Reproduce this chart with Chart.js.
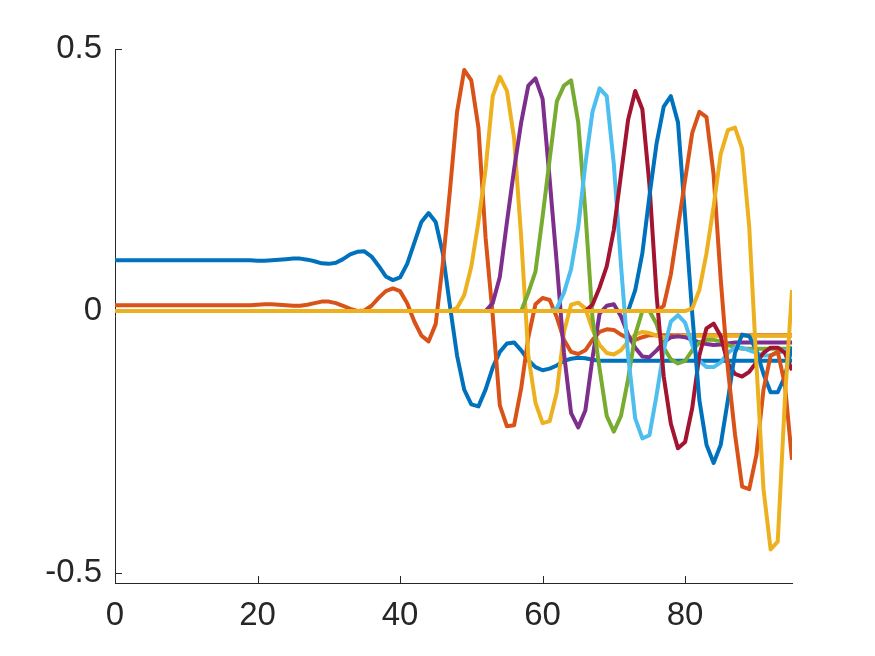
<!DOCTYPE html>
<html>
<head>
<meta charset="utf-8">
<script src="https://cdn.jsdelivr.net/npm/chart.js@4.4.1/dist/chart.umd.min.js"></script>
<style>
  html, body { margin: 0; padding: 0; background: #fff; }
</style>
</head>
<body>
<canvas id="chart" width="875" height="656"></canvas>
<script>
/* ── Data ── */
const xValues = [
  0, 1, 2, 3, 4, 5, 6, 7, 8, 9,
  10, 11, 12, 13, 14, 15, 16, 17, 18, 19,
  20, 21, 22, 23, 24, 25, 26, 27, 28, 29,
  30, 31, 32, 33, 34, 35, 36, 37, 38, 39,
  40, 41, 42, 43, 44, 45, 46, 47, 48, 49,
  50, 51, 52, 53, 54, 55, 56, 57, 58, 59,
  60, 61, 62, 63, 64, 65, 66, 67, 68, 69,
  70, 71, 72, 73, 74, 75, 76, 77, 78, 79,
  80, 81, 82, 83, 84, 85, 86, 87, 88, 89,
  90, 91, 92, 93, 94, 95
];
const xTicks = [0, 20, 40, 60, 80];
const yTicks = [-0.5, 0, 0.5];

const series1 = [
  0.097, 0.097, 0.097, 0.097, 0.097, 0.097, 0.097, 0.097, 0.097, 0.097,
  0.097, 0.097, 0.097, 0.097, 0.097, 0.097, 0.097, 0.097, 0.097, 0.097,
  0.096, 0.096, 0.097, 0.098, 0.099, 0.100, 0.100, 0.098, 0.095, 0.091,
  0.090, 0.092, 0.099, 0.108, 0.113, 0.114, 0.104, 0.086, 0.066, 0.059,
  0.064, 0.090, 0.130, 0.170, 0.187, 0.170, 0.110, 0.010, -0.085, -0.150,
  -0.178, -0.182, -0.150, -0.108, -0.078, -0.062, -0.060, -0.075, -0.094, -0.107,
  -0.113, -0.110, -0.104, -0.095, -0.091, -0.089, -0.090, -0.093, -0.095, -0.095,
  -0.095, -0.095, -0.095, -0.095, -0.095, -0.095, -0.095, -0.095, -0.095, -0.095,
  -0.095, -0.095, -0.095, -0.095, -0.095, -0.095, -0.095, -0.095, -0.095, -0.095,
  -0.095, -0.095, -0.095, -0.095, -0.095, -0.095
];
const series2 = [
  0.011, 0.011, 0.011, 0.011, 0.011, 0.011, 0.011, 0.011, 0.011, 0.011,
  0.011, 0.011, 0.011, 0.011, 0.011, 0.011, 0.011, 0.011, 0.011, 0.011,
  0.012, 0.013, 0.013, 0.012, 0.011, 0.010, 0.010, 0.012, 0.015, 0.018,
  0.018, 0.015, 0.010, 0.004, 0.000, 0.001, 0.010, 0.025, 0.038, 0.043,
  0.038, 0.015, -0.020, -0.047, -0.058, -0.025, 0.090, 0.230, 0.380, 0.460,
  0.440, 0.350, 0.140, -0.008, -0.180, -0.220, -0.218, -0.147, -0.050, 0.013,
  0.025, 0.021, -0.012, -0.055, -0.078, -0.082, -0.075, -0.055, -0.040, -0.035,
  -0.036, -0.045, -0.052, -0.055, -0.050, -0.046, -0.046, -0.046, -0.046, -0.046,
  -0.046, -0.046, -0.046, -0.046, -0.046, -0.046, -0.046, -0.046, -0.046, -0.046,
  -0.046, -0.046, -0.046, -0.046, -0.046, -0.046
];
const series3 = [
  0, 0, 0, 0, 0, 0, 0, 0, 0, 0,
  0, 0, 0, 0, 0, 0, 0, 0, 0, 0,
  0, 0, 0, 0, 0, 0, 0, 0, 0, 0,
  0, 0, 0, 0, 0, 0, 0, 0, 0, 0,
  0, 0, 0, 0, 0, 0, 0, 0, 0.006, 0.030,
  0.085, 0.170, 0.270, 0.410, 0.447, 0.420, 0.330, 0.140, -0.085, -0.175,
  -0.214, -0.210, -0.155, -0.040, 0.012, 0.016, 0.005, -0.035, -0.065, -0.080,
  -0.083, -0.075, -0.058, -0.045, -0.040, -0.042, -0.047, -0.050, -0.050, -0.047,
  -0.047, -0.047, -0.047, -0.047, -0.047, -0.047, -0.047, -0.047, -0.047, -0.047,
  -0.047, -0.047, -0.047, -0.047, -0.047, -0.047
];
const series4 = [
  0, 0, 0, 0, 0, 0, 0, 0, 0, 0,
  0, 0, 0, 0, 0, 0, 0, 0, 0, 0,
  0, 0, 0, 0, 0, 0, 0, 0, 0, 0,
  0, 0, 0, 0, 0, 0, 0, 0, 0, 0,
  0, 0, 0, 0, 0, 0, 0, 0, 0, 0,
  0, 0, 0, 0.015, 0.065, 0.170, 0.270, 0.360, 0.430, 0.444,
  0.405, 0.250, 0.090, -0.080, -0.195, -0.222, -0.190, -0.090, -0.005, 0.010,
  0.013, -0.010, -0.045, -0.070, -0.087, -0.088, -0.075, -0.060, -0.050, -0.048,
  -0.050, -0.055, -0.060, -0.063, -0.065, -0.064, -0.062, -0.060, -0.060, -0.060,
  -0.060, -0.060, -0.060, -0.060, -0.060, -0.060
];
const series5 = [
  0, 0, 0, 0, 0, 0, 0, 0, 0, 0,
  0, 0, 0, 0, 0, 0, 0, 0, 0, 0,
  0, 0, 0, 0, 0, 0, 0, 0, 0, 0,
  0, 0, 0, 0, 0, 0, 0, 0, 0, 0,
  0, 0, 0, 0, 0, 0, 0, 0, 0, 0,
  0, 0, 0, 0, 0, 0, 0, 0, 0.035, 0.075,
  0.180, 0.290, 0.400, 0.430, 0.440, 0.360, 0.190, -0.013, -0.110, -0.200,
  -0.230, -0.200, -0.130, -0.045, 0.000, 0.000, -0.025, -0.070, -0.092, -0.100,
  -0.095, -0.075, -0.060, -0.055, -0.055, -0.058, -0.065, -0.069, -0.072, -0.072,
  -0.072, -0.072, -0.072, -0.072, -0.072, -0.072
];
const series6 = [
  0, 0, 0, 0, 0, 0, 0, 0, 0, 0,
  0, 0, 0, 0, 0, 0, 0, 0, 0, 0,
  0, 0, 0, 0, 0, 0, 0, 0, 0, 0,
  0, 0, 0, 0, 0, 0, 0, 0, 0, 0,
  0, 0, 0, 0, 0, 0, 0, 0, 0, 0,
  0, 0, 0, 0, 0, 0, 0, 0, 0, 0,
  0, 0, 0.005, 0.035, 0.080, 0.160, 0.280, 0.380, 0.425, 0.410,
  0.280, 0.088, -0.085, -0.205, -0.243, -0.237, -0.160, -0.075, -0.020, -0.008,
  -0.022, -0.065, -0.095, -0.107, -0.107, -0.098, -0.080, -0.070, -0.070, -0.075,
  -0.080, -0.085, -0.085, -0.080, -0.075, -0.070
];
const series7 = [
  0, 0, 0, 0, 0, 0, 0, 0, 0, 0,
  0, 0, 0, 0, 0, 0, 0, 0, 0, 0,
  0, 0, 0, 0, 0, 0, 0, 0, 0, 0,
  0, 0, 0, 0, 0, 0, 0, 0, 0, 0,
  0, 0, 0, 0, 0, 0, 0, 0, 0, 0,
  0, 0, 0, 0, 0, 0, 0, 0, 0, 0,
  0, 0, 0, 0, 0, 0, 0, 0.012, 0.045, 0.085,
  0.155, 0.260, 0.365, 0.420, 0.385, 0.240, 0.030, -0.125, -0.215, -0.262,
  -0.250, -0.185, -0.085, -0.033, -0.024, -0.048, -0.100, -0.120, -0.125, -0.116,
  -0.098, -0.080, -0.070, -0.070, -0.080, -0.113
];
const series8 = [
  0, 0, 0, 0, 0, 0, 0, 0, 0, 0,
  0, 0, 0, 0, 0, 0, 0, 0, 0, 0,
  0, 0, 0, 0, 0, 0, 0, 0, 0, 0,
  0, 0, 0, 0, 0, 0, 0, 0, 0, 0,
  0, 0, 0, 0, 0, 0, 0, 0, 0, 0,
  0, 0, 0, 0, 0, 0, 0, 0, 0, 0,
  0, 0, 0, 0, 0, 0, 0, 0, 0, 0,
  0, 0, 0, 0.040, 0.110, 0.220, 0.320, 0.390, 0.410, 0.360,
  0.180, -0.005, -0.170, -0.255, -0.290, -0.255, -0.170, -0.080, -0.045, -0.048,
  -0.075, -0.120, -0.155, -0.155, -0.125, -0.068
];
const series9 = [
  0, 0, 0, 0, 0, 0, 0, 0, 0, 0,
  0, 0, 0, 0, 0, 0, 0, 0, 0, 0,
  0, 0, 0, 0, 0, 0, 0, 0, 0, 0,
  0, 0, 0, 0, 0, 0, 0, 0, 0, 0,
  0, 0, 0, 0, 0, 0, 0, 0, 0, 0,
  0, 0, 0, 0, 0, 0, 0, 0, 0, 0,
  0, 0, 0, 0, 0, 0, 0, 0, 0, 0,
  0, 0, 0, 0, 0, 0, 0, 0.010, 0.070, 0.160,
  0.250, 0.340, 0.380, 0.370, 0.260, 0.060, -0.110, -0.235, -0.335, -0.340,
  -0.275, -0.150, -0.085, -0.078, -0.140, -0.284
];
const series10 = [
  0, 0, 0, 0, 0, 0, 0, 0, 0, 0,
  0, 0, 0, 0, 0, 0, 0, 0, 0, 0,
  0, 0, 0, 0, 0, 0, 0, 0, 0, 0,
  0, 0, 0, 0, 0, 0, 0, 0, 0, 0,
  0, 0, 0, 0, 0, 0, 0, 0, 0, 0,
  0, 0, 0, 0, 0, 0, 0, 0, 0, 0,
  0, 0, 0, 0, 0, 0, 0, 0, 0, 0,
  0, 0, 0, 0, 0, 0, 0, 0, 0, 0,
  0, 0.005, 0.040, 0.110, 0.200, 0.300, 0.345, 0.350, 0.310, 0.160,
  -0.100, -0.340, -0.455, -0.440, -0.170, 0.040
];

const allSeries = [series1, series2, series3, series4, series5, series6, series7, series8, series9, series10];

// MATLAB default colour order, cycling after 7
const lineColors = ['#0072BD', '#D95319', '#EDB120', '#7E2F8E', '#77AC30', '#4DBEEE', '#A2142F', '#0072BD', '#D95319', '#EDB120'];

const AXIS_COLOR = '#262626';
const FONT = { family: "'Liberation Sans', Arial, Helvetica, sans-serif", size: 33 };

/* ── Inward tick marks, MATLAB style ── */
const inwardTicks = {
  id: 'inwardTicks',
  beforeDatasetsDraw(chart) {
    const { ctx, chartArea, scales } = chart;
    ctx.save();
    ctx.strokeStyle = AXIS_COLOR;
    ctx.lineWidth = 1;
    ctx.beginPath();
    scales.x.ticks.forEach(t => {
      const px = Math.round(scales.x.getPixelForValue(t.value)) + 0.5;
      ctx.moveTo(px, chartArea.bottom);
      ctx.lineTo(px, chartArea.bottom - 7);
    });
    scales.y.ticks.forEach(t => {
      const py = Math.round(scales.y.getPixelForValue(t.value)) + 0.5;
      ctx.moveTo(chartArea.left, py);
      ctx.lineTo(chartArea.left + 7, py);
    });
    ctx.stroke();
    ctx.restore();
  }
};

new Chart(document.getElementById('chart'), {
  type: 'line',
  data: {
    datasets: allSeries.map((s, i) => ({
      data: s.map((v, j) => ({ x: xValues[j], y: v })),
      borderColor: lineColors[i],
      borderWidth: 4,
      borderJoinStyle: 'round',
      pointRadius: 0,
      tension: 0,
      fill: false,
      order: allSeries.length - i   // later lines on top
    }))
  },
  options: {
    responsive: false,
    animation: false,
    devicePixelRatio: 1,
    layout: { padding: { top: 49, right: 83, left: 0, bottom: 0 } },
    plugins: {
      legend: { display: false },
      tooltip: { enabled: false }
    },
    scales: {
      x: {
        type: 'linear',
        min: 0,
        max: 95,
        afterBuildTicks: scale => { scale.ticks = xTicks.map(v => ({ value: v })); },
        afterFit: scale => { scale.height = 73; },
        grid: { drawOnChartArea: false, drawTicks: false },
        border: { display: true, color: AXIS_COLOR, width: 1 },
        ticks: { color: AXIS_COLOR, font: FONT, padding: 13, maxRotation: 0, callback: v => String(v) }
      },
      y: {
        type: 'linear',
        min: -0.519,
        max: 0.5,
        afterBuildTicks: scale => { scale.ticks = yTicks.map(v => ({ value: v })); },
        afterFit: scale => { scale.width = 115; },
        grid: { drawOnChartArea: false, drawTicks: false },
        border: { display: true, color: AXIS_COLOR, width: 1 },
        ticks: { color: AXIS_COLOR, font: FONT, padding: 13, callback: v => String(v) }
      }
    }
  },
  plugins: [inwardTicks]
});
</script>
</body>
</html>
